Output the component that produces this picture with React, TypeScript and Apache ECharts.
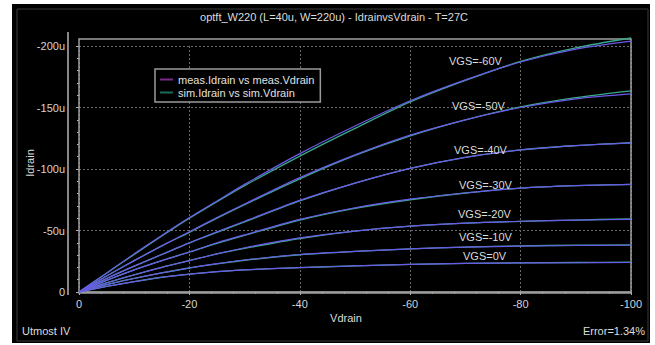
import React, { useEffect, useRef } from "react";
import * as echarts from "echarts";

// Drain voltage samples (V)
const vdrain = [0, -5, -10, -15, -20, -25, -30, -40, -50, -60, -70, -80, -90, -100];

// Gate voltages (labels)
const vgsLabels = ["VGS=-60V", "VGS=-50V", "VGS=-40V", "VGS=-30V", "VGS=-20V", "VGS=-10V", "VGS=0V"];

// Measured drain current (uA), one row per VGS
const measVgs60 = [0, -15.5, -31, -46, -60.5, -74, -87.5, -112.5, -135, -155.5, -172.5, -187, -197.5, -204];
const measVgs50 = [0, -13, -25.5, -37.5, -49, -60.5, -71.5, -93, -111.5, -127.5, -140, -150, -157, -161];
const measVgs40 = [0, -11, -21, -30.5, -40, -49, -57.5, -74.5, -88.5, -100.5, -109.5, -115.5, -119, -121];
const measVgs30 = [0, -9.5, -18, -25.5, -32.5, -40, -46.5, -59, -68.5, -75.5, -80.5, -84.5, -86.5, -87.5];
const measVgs20 = [0, -7.5, -14, -20, -25.5, -31, -36, -44, -49.5, -53.5, -56, -57.5, -58.5, -59];
const measVgs10 = [0, -6, -11, -15.5, -19.5, -23, -26, -30.5, -33, -35, -36.5, -37.3, -37.8, -38];
const measVgs0 = [0, -4.5, -8.5, -12, -14.5, -16.5, -18, -19.8, -21.2, -22.5, -23.2, -23.6, -23.8, -24];

// Simulated drain current (uA)
const simVgs60 = [0, -15.3, -30.5, -45.5, -60, -73.5, -86.5, -110.5, -133, -154.5, -172, -187.5, -198.5, -206.5];
const simVgs50 = [0, -13, -25.5, -37.5, -48.5, -60, -71, -92, -111, -127, -140, -150.5, -158, -163.5];
const simVgs40 = [0, -11, -21, -30.5, -40, -48.5, -57, -74, -88.5, -100.5, -109.5, -115.5, -119, -121.5];
const simVgs30 = [0, -9.5, -18, -25.5, -32.5, -39.5, -46, -58.5, -68, -75, -80.5, -84.5, -86.5, -87.5];
const simVgs20 = [0, -7.5, -14, -20, -25.5, -31, -35.5, -43.5, -49.5, -53.5, -56, -57.5, -58.5, -59.5];
const simVgs10 = [0, -6, -11, -15.5, -19.5, -22.8, -25.8, -30.3, -33, -35, -36.5, -37.5, -38, -38.3];
const simVgs0 = [0, -4.5, -8.5, -12, -14.5, -16.5, -18, -19.8, -21.2, -22.4, -23.2, -23.7, -24, -24.2];

const measRows = [measVgs60, measVgs50, measVgs40, measVgs30, measVgs20, measVgs10, measVgs0];
const simRows = [simVgs60, simVgs50, simVgs40, simVgs30, simVgs20, simVgs10, simVgs0];

const MEAS_NAME = "meas.Idrain vs meas.Vdrain";
const SIM_NAME = "sim.Idrain vs sim.Vdrain";
const TITLE = "optft_W220 (L=40u, W=220u) - IdrainvsVdrain - T=27C";

export default function App() {
  const ref = useRef<HTMLDivElement>(null);

  useEffect(() => {
    if (!ref.current) return;
    const chart = echarts.init(ref.current, null, { renderer: "svg" });
    const font = "'Liberation Sans', Arial, sans-serif";
    const MEAS_COLOR = "#6a5ae8";
    const SIM_COLOR = "#3aa88c";

    const series: any[] = [];
    simRows.forEach((row) => {
      series.push({
        type: "line",
        name: SIM_NAME,
        data: vdrain.map((v, j) => [v, row[j]]),
        symbol: "none",
        showSymbol: false,
        smooth: 0.3,
        clip: false,
        lineStyle: { color: SIM_COLOR, width: 1.3 },
        itemStyle: { color: SIM_COLOR },
        z: 2,
      });
    });
    measRows.forEach((row) => {
      series.push({
        type: "line",
        name: MEAS_NAME,
        data: vdrain.map((v, j) => [v, row[j]]),
        symbol: "none",
        showSymbol: false,
        smooth: 0.3,
        clip: false,
        lineStyle: { color: MEAS_COLOR, width: 1.2 },
        itemStyle: { color: MEAS_COLOR },
        z: 3,
      });
    });

    const labelPos = [
      [449, 61],
      [452, 106],
      [454, 150],
      [459, 185],
      [458, 214],
      [459, 237],
      [463, 256],
    ];

    const txt = (text: string, x: number, y: number, align: string, size = 11, extra: any = {}) => ({
      type: "text",
      x,
      y,
      z: 100,
      silent: true,
      ...extra,
      style: {
        text,
        fill: "#dcdcdc",
        fontSize: size,
        fontFamily: font,
        textAlign: align,
        align,
        textVerticalAlign: "middle",
        verticalAlign: "middle",
      },
    });

    chart.setOption({
      animation: false,
      textStyle: { fontFamily: font },
      grid: { left: 79, right: 24, top: 46, bottom: 53 },
      xAxis: {
        type: "value",
        min: -100,
        max: 0,
        interval: 20,
        inverse: true,
        offset: 2,
        axisLine: { show: true, lineStyle: { color: "#b4b4b4", width: 1.5 } },
        axisTick: { show: true, length: 3, lineStyle: { color: "#b4b4b4" } },
        minorTick: { show: true, splitNumber: 5, length: 2, lineStyle: { color: "#b4b4b4" } },
        axisLabel: { color: "#d4d4d4", fontSize: 11, margin: 4, fontFamily: font },
        splitLine: { show: true, lineStyle: { color: "#6a6a6a", type: [2, 2], width: 1 } },
      },
      yAxis: {
        type: "value",
        min: -200,
        max: 0,
        interval: 50,
        inverse: true,
        offset: 11,
        axisLine: { show: false },
        axisTick: { show: true, length: 3, lineStyle: { color: "#b4b4b4" } },
        minorTick: { show: true, splitNumber: 5, length: 2, lineStyle: { color: "#b4b4b4" } },
        axisLabel: {
          color: "#d4d4d4",
          fontSize: 11,
          margin: 3,
          fontFamily: font,
          formatter: (v: number) => (v === 0 ? "0" : `${v}u`),
        },
        splitLine: { show: true, lineStyle: { color: "#6a6a6a", type: [2, 2], width: 1 } },
      },
      legend: {
        show: true,
        orient: "vertical",
        left: 155,
        top: 69,
        padding: [4, 6, 3, 5],
        itemGap: 0,
        itemWidth: 13,
        itemHeight: 2,
        icon: "rect",
        selectedMode: false,
        borderColor: "#9a9a9a",
        borderWidth: 1.5,
        backgroundColor: "#000",
        textStyle: { color: "#e0e0e0", fontSize: 11, lineHeight: 13, fontFamily: font },
        data: [
          { name: MEAS_NAME, itemStyle: { color: "#7a2a88" } },
          { name: SIM_NAME, itemStyle: { color: "#1f6a5e" } },
        ],
      },
      graphic: [
        {
          type: "rect",
          z: -1,
          silent: true,
          shape: { x: 17, y: 9, width: 631, height: 332 },
          style: { fill: "none", stroke: "#3a3a3a", lineWidth: 1 },
        },
        {
          type: "rect",
          z: 1,
          silent: true,
          shape: { x: 79, y: 39, width: 552, height: 254 },
          style: { fill: "none", stroke: "#a0a0a0", lineWidth: 1.5 },
        },
        {
          type: "line",
          z: 1,
          silent: true,
          shape: { x1: 68, y1: 32, x2: 68, y2: 295 },
          style: { stroke: "#b4b4b4", lineWidth: 1.5 },
        },
        txt(TITLE, 334, 17, "center", 11),
        txt("Vdrain", 346, 318, "center", 11),
        txt("Idrain", 30, 163, "center", 11, { rotation: Math.PI / 2 }),
        txt("Utmost IV", 22, 331, "left", 11),
        txt("Error=1.34%", 645, 331, "right", 11),
        ...vgsLabels.map((t, i) => txt(t, labelPos[i][0], labelPos[i][1], "left", 11)),
      ],
      series,
    });

    return () => {
      chart.dispose();
    };
  }, []);

  return (
    <div style={{ position: "fixed", left: 0, top: 0, width: 655, height: 345, background: "#fff" }}>
      <div style={{ position: "absolute", left: 12, top: 4, width: 638, height: 339, background: "#000" }} />
      <div ref={ref} style={{ position: "absolute", left: 0, top: 0, width: 655, height: 345 }} />
    </div>
  );
}
